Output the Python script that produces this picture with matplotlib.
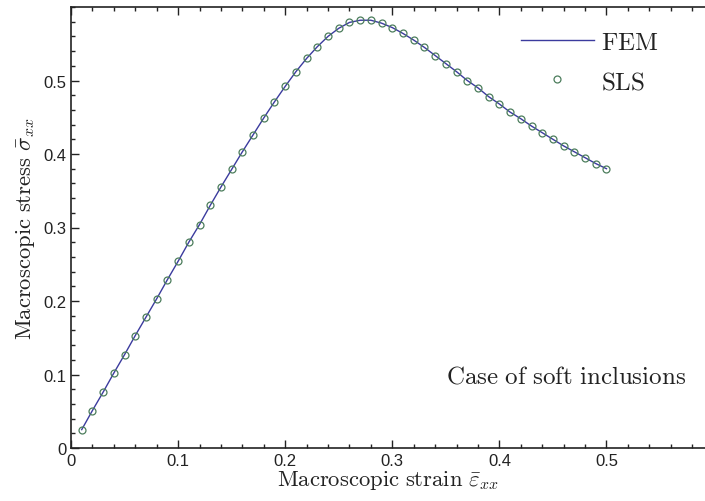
import matplotlib
matplotlib.use("Agg")
import matplotlib.pyplot as plt
from matplotlib.ticker import MultipleLocator

# strain values and stress values
strain = [0.01, 0.02, 0.03, 0.04, 0.05, 0.06, 0.07, 0.08, 0.09, 0.10,
          0.11, 0.12, 0.13, 0.14, 0.15, 0.16, 0.17, 0.18, 0.19, 0.20,
          0.21, 0.22, 0.23, 0.24, 0.25, 0.26, 0.27, 0.28, 0.29, 0.30,
          0.31, 0.32, 0.33, 0.34, 0.35, 0.36, 0.37, 0.38, 0.39, 0.40,
          0.41, 0.42, 0.43, 0.44, 0.45, 0.46, 0.47, 0.48, 0.49, 0.50]
stress_fem = [0.025, 0.051, 0.076, 0.102, 0.127, 0.153, 0.178, 0.203, 0.229, 0.254,
              0.280, 0.304, 0.330, 0.355, 0.379, 0.403, 0.426, 0.449, 0.471, 0.492,
              0.512, 0.530, 0.546, 0.560, 0.571, 0.579, 0.582, 0.582, 0.578, 0.572,
              0.564, 0.555, 0.545, 0.534, 0.523, 0.512, 0.500, 0.490, 0.478, 0.468,
              0.457, 0.448, 0.438, 0.429, 0.420, 0.411, 0.403, 0.395, 0.387, 0.380]
stress_sls = [0.025, 0.051, 0.076, 0.102, 0.127, 0.153, 0.178, 0.203, 0.229, 0.254,
              0.280, 0.304, 0.330, 0.355, 0.379, 0.403, 0.426, 0.449, 0.471, 0.492,
              0.512, 0.530, 0.546, 0.560, 0.571, 0.579, 0.582, 0.582, 0.578, 0.572,
              0.564, 0.555, 0.545, 0.534, 0.523, 0.512, 0.500, 0.490, 0.478, 0.468,
              0.457, 0.448, 0.438, 0.429, 0.420, 0.411, 0.403, 0.395, 0.387, 0.380]

plt.rcParams['mathtext.fontset'] = 'cm'
plt.rcParams['font.family'] = 'Liberation Sans'

fig = plt.figure(figsize=(7.05, 5.02), dpi=100)
ax = fig.add_axes([71/705, 53/502, 634/705, 441/502])

ax.plot(strain, stress_fem, color='#3b3b9e', lw=1.0, label='FEM')
ax.plot(strain, stress_sls, ls='none', marker='o', ms=5, mfc='none',
        mec='#4c7d5c', mew=0.9, label='SLS')

ax.set_xlim(0, 0.592)
ax.set_ylim(0, 0.6)
ax.xaxis.set_minor_locator(MultipleLocator(0.02))
ax.yaxis.set_minor_locator(MultipleLocator(0.02))
ax.set_xticks([0, 0.1, 0.2, 0.3, 0.4, 0.5])
ax.set_xticklabels(['0', '0.1', '0.2', '0.3', '0.4', '0.5'])
ax.set_yticks([0, 0.1, 0.2, 0.3, 0.4, 0.5])
ax.set_yticklabels(['0', '0.1', '0.2', '0.3', '0.4', '0.5'])
ax.tick_params(which='both', direction='in', top=True, right=False,
               labelsize=12, colors='#222222', width=1.0)
ax.tick_params(which='major', length=6)
ax.tick_params(which='minor', length=3)
ax.spines['right'].set_visible(False)
for s in ['left', 'bottom', 'top']:
    ax.spines[s].set_linewidth(1.2)
    ax.spines[s].set_color('#222222')

ax.set_xlabel(r'$\mathrm{Macroscopic\ strain}\ \bar{\varepsilon}_{xx}$',
              fontsize=16.3, color='#222222', labelpad=0)
ax.set_ylabel(r'$\mathrm{Macroscopic\ stress}\ \bar{\sigma}_{xx}$',
              fontsize=16.3, color='#222222', labelpad=4)

ax.text(0.97, 0.165, r'$\mathrm{Case\ of\ soft\ inclusions}$', transform=ax.transAxes,
        ha='right', va='center', fontsize=18, color='#222222')

leg = ax.legend(loc='upper right', bbox_to_anchor=(0.962, 0.997), frameon=False,
                prop={'family': 'DejaVu Serif', 'size': 18}, handlelength=2.9,
                handletextpad=0.3, labelspacing=0.65)
for t in leg.get_texts():
    t.set_text(r'$\mathrm{' + t.get_text() + '}$')
    t.set_color('#222222')

fig.savefig('out.png', dpi=100)
